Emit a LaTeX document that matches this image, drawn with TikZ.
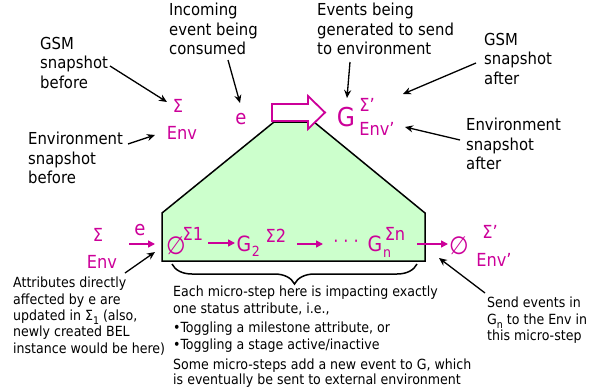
\documentclass[tikz,border=0pt]{standalone}
\usepackage{fontspec}
\setmainfont{DejaVu Sans Condensed}
\usetikzlibrary{arrows.meta,decorations.pathreplacing}
\definecolor{mag}{HTML}{CC0099}
\definecolor{mint}{HTML}{CCFFCC}
\newcommand{\lowsub}[1]{\raisebox{-0.3em}{\fontsize{10.5}{10.5}\selectfont #1}}
\begin{document}
\begin{tikzpicture}[x=1pt,y=-1pt,
  note/.style={font=\fontsize{16.5}{19.5}\selectfont, align=left, inner sep=0pt, anchor=north west},
  smallnote/.style={font=\fontsize{14}{16.3}\selectfont, align=left, inner sep=0pt, anchor=north west},
  sym/.style={text=mag, inner sep=0pt, font=\fontsize{18}{18}\selectfont},
  pointer/.style={-{Stealth[length=8pt,width=7pt]}, line width=1.3pt, black},
  flow/.style={-{Triangle[length=7pt,width=7pt]}, line width=1.5pt, mag}]
\path[use as bounding box] (0,0) rectangle (592,391);

% micro-step region
\draw[line width=1.5pt, fill=mint, line join=miter]
  (274,122) -- (314,122) -- (425,213) -- (425,261) -- (162,261) -- (162,213) -- cycle;

% hollow arrow on top of the region
\draw[line width=1.8pt, mag, fill=white, line join=miter]
  (272,104) -- (308,104) -- (308,96) -- (325,112.5) -- (308,129) -- (308,121) -- (272,121) -- cycle;

% state before the macro-step
\node[sym] (sigB) at (178,106) {Σ};
\node[sym] (envB) at (182,133) {Env};
\node[sym, font=\fontsize{20}{20}\selectfont] (eTop) at (241,119) {e};

% state after the macro-step
\node[sym, font=\fontsize{26}{26}\selectfont] (gA) at (346,117) {G};
\node[sym] (sigA) at (367,105) {Σ’};
\node[sym] (envA) at (377,129) {Env’};

% micro-step sequence
\node[sym] (sigL) at (98,235) {Σ};
\node[sym] (envL) at (102,262) {Env};
\node[sym, font=\fontsize{20}{20}\selectfont] (eL) at (140,230) {e};
\node[sym, font=\fontsize{25}{25}\selectfont] (empty1) at (176,246) {∅};
\node[sym] (sig1) at (193,234) {Σ1};
\node[sym, font=\fontsize{21}{21}\selectfont] (g2) at (244,244) {G};
\node[sym, font=\fontsize{14}{14}\selectfont] (g2sub) at (256,251) {2};
\node[sym] (sig2) at (276,236) {Σ2};
\node[sym] (dots) at (346,244) {·\hspace{5pt}·\hspace{5pt}·};
\node[sym, font=\fontsize{21}{21}\selectfont] (gn) at (375,244) {G};
\node[sym, font=\fontsize{14}{14}\selectfont] (gnsub) at (387,254) {n};
\node[sym] (sign) at (395,234) {Σn};
\node[sym, font=\fontsize{25}{25}\selectfont] (empty2) at (459,246) {∅};
\node[sym] (sigR) at (490,232) {Σ’};
\node[sym] (envR) at (494,260) {Env’};

% anchor points of the flow arrows
\coordinate (fa0) at (129,244);  \coordinate (fb0) at (155,244);
\coordinate (fa1) at (208,243);  \coordinate (fb1) at (235,243);
\coordinate (fa2) at (297,244);  \coordinate (fb2) at (323,244);
\coordinate (fa3) at (417,244);  \coordinate (fb3) at (448,244);
\draw[flow] (fa0) -- (fb0);
\draw[flow] (fa1) -- (fb1);
\draw[flow] (fa2) -- (fb2);
\draw[flow] (fa3) -- (fb3);

% brace under the micro-steps
\coordinate (brL) at (172,264);
\coordinate (brR) at (417,264);
\draw[line width=1.5pt, decorate, decoration={brace, mirror, amplitude=20pt}] (brL) -- (brR);

% annotations
\node[note] (gsmBefore) at (40,37) {GSM\\snapshot\\before};
\node[note] (envBefore) at (28,132) {Environment\\snapshot\\before};
\node[note] (incoming) at (169,3) {Incoming\\event being\\consumed};
\node[note] (events) at (317,3) {Events being\\generated to send\\to environment};
\node[note] (gsmAfter) at (484,33) {GSM\\snapshot\\after};
\node[note] (envAfter) at (466,118) {Environment\\snapshot\\after};
\node[smallnote] (attrs) at (13,277) {Attributes directly\\affected by e are\\updated in Σ\lowsub{1} (also,\\newly created BEL\\instance would be here)};
\node[smallnote] (micro) at (173,286) {Each micro-step here is impacting exactly\\one status attribute, i.e.,\\[3pt]•Toggling a milestone attribute, or\\[1pt]•Toggling a stage active/inactive\\[3pt]Some micro-steps add a new event to G, which\\[-1pt]is eventually be sent to external environment};
\node[smallnote] (send) at (487,297) {Send events in\\G\lowsub{n} to the Env in\\this micro-step};

% pointer ends
\coordinate (p1a) at (110,66);  \coordinate (p1b) at (167,102);
\coordinate (p2a) at (128,144); \coordinate (p2b) at (155,135);
\coordinate (p3a) at (228,60);  \coordinate (p3b) at (240,103);
\coordinate (p4a) at (350,62);  \coordinate (p4b) at (347,98);
\coordinate (p5a) at (476,63);  \coordinate (p5b) at (403,94);
\coordinate (p6a) at (460,140); \coordinate (p6b) at (405,127);
\coordinate (p7a) at (125,273); \coordinate (p7b) at (155,252);
\coordinate (p8a) at (485,293); \coordinate (p8b) at (439,258);
\draw[pointer] (p1a) -- (p1b);
\draw[pointer] (p2a) -- (p2b);
\draw[pointer] (p3a) -- (p3b);
\draw[pointer] (p4a) -- (p4b);
\draw[pointer] (p5a) -- (p5b);
\draw[pointer] (p6a) -- (p6b);
\draw[pointer] (p7a) -- (p7b);
\draw[pointer] (p8a) -- (p8b);
\end{tikzpicture}
\end{document}
